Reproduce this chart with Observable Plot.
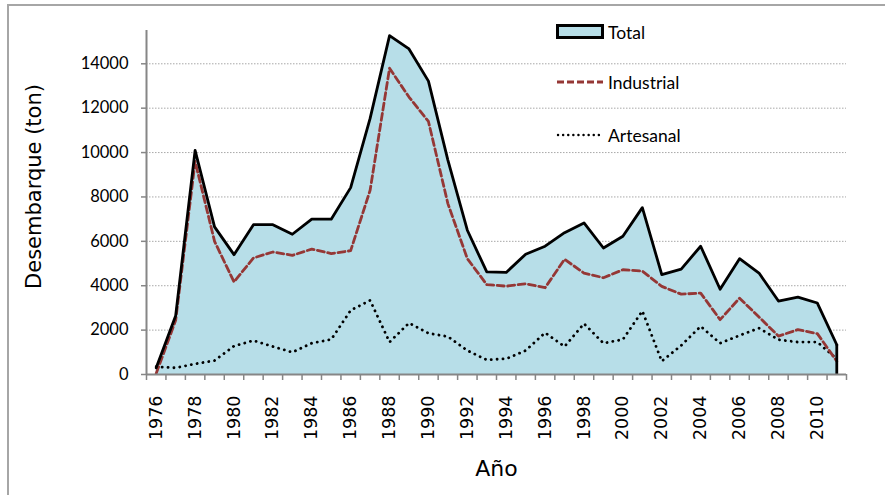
<!DOCTYPE html>
<html>
<head>
<meta charset="utf-8">
<script src="https://cdn.jsdelivr.net/npm/d3@7"></script>
<script src="https://cdn.jsdelivr.net/npm/@observablehq/plot@0.6"></script>
<style>
  html, body { margin: 0; padding: 0; background: #fff; }
  #wrap { position: relative; width: 885px; height: 495px; overflow: hidden; }
  #border { position: absolute; left: 7px; top: 4px; right: -10px; bottom: -10px;
            border-left: 2px solid #a6a6a6; border-top: 2px solid #a6a6a6; pointer-events: none; }
  #legend { position: absolute; left: 556px; top: 18px; font-family: Lato, "Open Sans", sans-serif; font-size: 17.5px; color: #000; }
  #legend .item { position: absolute; left: 0; height: 28px; display: flex; align-items: center; white-space: nowrap; }
  #legend svg { display: block; margin-right: 4px; }
</style>
</head>
<body>
<div id="wrap">
  <div id="chart"></div>
  <div id="border"></div>
  <div id="legend"></div>
</div>
<script>
// ---- data ----
const years = d3.range(1976, 2012);
const total = [300, 2650, 10100, 6650, 5400, 6750, 6750, 6320, 7000, 7000, 8420, 11540,
               15270, 14670, 13220, 9660, 6500, 4620, 4600, 5420, 5780, 6390, 6830, 5700,
               6230, 7520, 4500, 4750, 5780, 3840, 5220, 4570, 3310, 3490, 3220, 1340];
const industrial = [50, 2440, 9600, 6000, 4170, 5250, 5520, 5370, 5650, 5450, 5580, 8300,
                    13800, 12500, 11400, 7700, 5220, 4050, 3980, 4090, 3910, 5190, 4570, 4360,
                    4720, 4660, 3970, 3620, 3670, 2470, 3440, 2590, 1730, 2020, 1840, 600];
const artesanal = [350, 300, 480, 630, 1280, 1530, 1260, 1000, 1410, 1580, 2890, 3340,
                   1460, 2320, 1860, 1710, 1080, 660, 710, 1080, 1880, 1260, 2290, 1410,
                   1580, 2860, 600, 1310, 2170, 1410, 1760, 2090, 1570, 1460, 1460, 700];
const yTicks = d3.range(0, 14001, 2000);
const xLabelYears = d3.range(1976, 2011, 2);
const xTickEdges = d3.range(1975.5, 2012, 1);
const seriesNames = ["Total", "Industrial", "Artesanal"];

const data = years.map((year, i) => ({year, total: total[i], industrial: industrial[i], artesanal: artesanal[i]}));

const FILL = "#b7dee8";
const RED = "#953735";
const AXIS = "#868686";

const chart = Plot.plot({
  width: 885,
  height: 495,
  marginLeft: 146,
  marginRight: 39,
  marginTop: 30,
  marginBottom: 121,
  style: {background: "transparent", fontFamily: "Lato, sans-serif", color: "#000"},
  x: {domain: [xTickEdges[0], xTickEdges[xTickEdges.length - 1]]},
  y: {domain: [0, 15500]},
  marks: [
    Plot.ruleY(yTicks.filter(d => d > 0), {stroke: "#a8a8a8", strokeWidth: 1, strokeDasharray: "1.5,1.5"}),
    Plot.areaY(data, {x: "year", y: "total", fill: FILL}),
    Plot.lineY(data, {x: "year", y: "artesanal", stroke: "#000", strokeWidth: 2.8, strokeDasharray: "0.1,5.8", strokeLinecap: "round"}),
    Plot.lineY(data, {x: "year", y: "industrial", stroke: RED, strokeWidth: 2.8, strokeDasharray: "7,3.5"}),
    Plot.lineY(data, {x: "year", y: "total", stroke: "#000", strokeWidth: 2.8}),
    Plot.ruleX(data.slice(-1), {x: "year", y1: 0, y2: "total", stroke: "#000", strokeWidth: 2.8}),
    Plot.ruleX([xTickEdges[0]], {stroke: AXIS, strokeWidth: 2}),
    Plot.ruleY([0], {stroke: AXIS, strokeWidth: 2}),
    Plot.axisY({ticks: yTicks, tickSize: 5, tickPadding: 13, fontSize: 16.5, tickFormat: d => String(d), label: null, stroke: AXIS, strokeWidth: 1.5}),
    Plot.axisX({ticks: xTickEdges, tickSize: 6, tickFormat: () => "", label: null, stroke: AXIS, strokeWidth: 1.5}),
    Plot.axisX({ticks: xLabelYears, tickSize: 0, tickPadding: 21, tickRotate: -90, fontSize: 17.5, fontFamily: "DejaVu Sans", tickFormat: d => String(d), label: null}),
    Plot.text(["Desembarque (ton)"], {frameAnchor: "left", textAnchor: "middle", dx: -112, dy: -16, rotate: -90, fontSize: 21, fontFamily: "DejaVu Sans"}),
    Plot.text(["Año"], {frameAnchor: "bottom", textAnchor: "middle", dy: 101, fontSize: 22, fontFamily: "DejaVu Sans"})
  ]
});
document.getElementById("chart").appendChild(chart);

// ---- legend ----
const legend = document.getElementById("legend");
const swatches = {
  Total: `<svg width="48" height="16"><rect x="1.5" y="1.5" width="45" height="12" fill="${FILL}" stroke="#000" stroke-width="3"/></svg>`,
  Industrial: `<svg width="48" height="16"><line x1="1" y1="8" x2="47" y2="8" stroke="${RED}" stroke-width="2.8" stroke-dasharray="7,3"/></svg>`,
  Artesanal: `<svg width="48" height="16"><line x1="2" y1="8" x2="47" y2="8" stroke="#000" stroke-width="2.4" stroke-dasharray="0.1,5" stroke-linecap="round"/></svg>`
};
const tops = [0, 50, 103];
seriesNames.forEach((name, i) => {
  const d = document.createElement("div");
  d.className = "item";
  d.style.top = tops[i] + "px";
  d.innerHTML = swatches[name] + `<span>${name}</span>`;
  legend.appendChild(d);
});
</script>
</body>
</html>
